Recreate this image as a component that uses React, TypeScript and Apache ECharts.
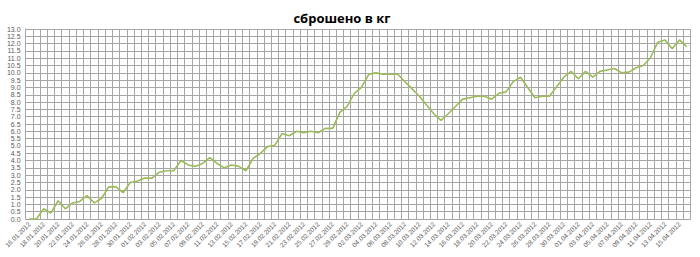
import React, { useEffect, useRef } from "react";
import * as echarts from "echarts";

const title = "сброшено в кг";

const dates = [
  "16.01.2012", "17.01.2012", "18.01.2012", "19.01.2012", "20.01.2012", "21.01.2012", "22.01.2012", "23.01.2012",
  "24.01.2012", "25.01.2012", "26.01.2012", "27.01.2012", "28.01.2012", "29.01.2012", "30.01.2012", "31.01.2012",
  "01.02.2012", "02.02.2012", "03.02.2012", "04.02.2012", "05.02.2012", "06.02.2012", "07.02.2012", "08.02.2012",
  "09.02.2012", "10.02.2012", "11.02.2012", "12.02.2012", "13.02.2012", "14.02.2012", "15.02.2012", "16.02.2012",
  "17.02.2012", "18.02.2012", "19.02.2012", "20.02.2012", "21.02.2012", "22.02.2012", "23.02.2012", "24.02.2012",
  "25.02.2012", "26.02.2012", "27.02.2012", "28.02.2012", "29.02.2012", "01.03.2012", "02.03.2012", "03.03.2012",
  "04.03.2012", "05.03.2012", "06.03.2012", "07.03.2012", "08.03.2012", "09.03.2012", "10.03.2012", "11.03.2012",
  "12.03.2012", "13.03.2012", "14.03.2012", "15.03.2012", "16.03.2012", "17.03.2012", "18.03.2012", "19.03.2012",
  "20.03.2012", "21.03.2012", "22.03.2012", "23.03.2012", "24.03.2012", "25.03.2012", "26.03.2012", "27.03.2012",
  "28.03.2012", "29.03.2012", "30.03.2012", "31.03.2012", "01.04.2012", "02.04.2012", "03.04.2012", "04.04.2012",
  "05.04.2012", "06.04.2012", "07.04.2012", "08.04.2012", "09.04.2012", "10.04.2012", "11.04.2012", "12.04.2012",
  "13.04.2012", "14.04.2012", "15.04.2012", "16.04.2012",
];

const lost = [
  0, 0, 0.7, 0.4, 1.25, 0.7, 1.1, 1.2,
  1.6, 1.1, 1.4, 2.2, 2.2, 1.8, 2.5, 2.6,
  2.8, 2.8, 3.2, 3.3, 3.3, 4.0, 3.7, 3.6,
  3.8, 4.2, 3.8, 3.5, 3.7, 3.6, 3.3, 4.15,
  4.5, 4.95, 5.05, 5.85, 5.7, 6.0, 5.9, 6.0,
  5.9, 6.2, 6.2, 7.3, 7.7, 8.6, 9.0, 9.9,
  10.0, 9.9, 9.9, 9.9, 9.4, 8.9, 8.4, 7.8,
  7.2, 6.75, 7.2, 7.7, 8.2, 8.3, 8.4, 8.4,
  8.2, 8.6, 8.7, 9.4, 9.7, 9.0, 8.3, 8.4,
  8.4, 9.05, 9.7, 10.1, 9.6, 10.1, 9.7, 10.1,
  10.2, 10.3, 10.0, 10.05, 10.35, 10.5, 11.05, 12.1,
  12.25, 11.65, 12.25, 11.8,
];

const yMin = 0;
const yMax = 13;
const yStep = 0.5;

export default function App() {
  const ref = useRef<HTMLDivElement>(null);

  useEffect(() => {
    if (!ref.current) return;
    const chart = echarts.init(ref.current, null, { renderer: "svg" });
    const font = "'Liberation Sans', 'DejaVu Sans', sans-serif";
    chart.setOption({
      animation: false,
      backgroundColor: "#ffffff",
      title: {
        text: title,
        left: 337,
        top: 6,
        textAlign: "center",
        textStyle: {
          fontFamily: "'Open Sans', 'Liberation Sans', sans-serif",
          fontSize: 13,
          fontWeight: "bold",
          color: "#000000",
        },
      },
      grid: {
        left: 25.6,
        right: 9.7,
        top: 29,
        bottom: 38,
        containLabel: false,
      },
      xAxis: {
        type: "category",
        data: dates,
        boundaryGap: true,
        axisLine: { show: true, lineStyle: { color: "#a6a6a6", width: 1 } },
        axisTick: { show: false },
        splitLine: {
          show: true,
          interval: 0,
          lineStyle: { color: "#a6a6a6", width: 1 },
        },
        axisLabel: {
          interval: 1,
          rotate: 45,
          margin: 4,
          fontSize: 6.5,
          color: "#595959",
          fontFamily: font,
        },
      },
      yAxis: {
        type: "value",
        min: yMin,
        max: yMax,
        interval: yStep,
        axisLine: { show: true, lineStyle: { color: "#a6a6a6", width: 1 } },
        axisTick: { show: false },
        splitLine: { show: true, lineStyle: { color: "#a6a6a6", width: 1 } },
        axisLabel: {
          margin: 5,
          fontSize: 7,
          lineHeight: 7,
          showMinLabel: true,
          showMaxLabel: true,
          hideOverlap: false,
          color: "#595959",
          fontFamily: font,
          formatter: (v: number) => v.toFixed(1),
        },
      },
      series: [
        {
          type: "line",
          data: lost,
          symbol: "none",
          smooth: false,
          lineStyle: { color: "#9bbb59", width: 1.6 },
        },
      ],
    });
    return () => chart.dispose();
  }, []);

  return (
    <div
      ref={ref}
      style={{ position: "fixed", left: 0, top: 0, width: 700, height: 257 }}
    />
  );
}
